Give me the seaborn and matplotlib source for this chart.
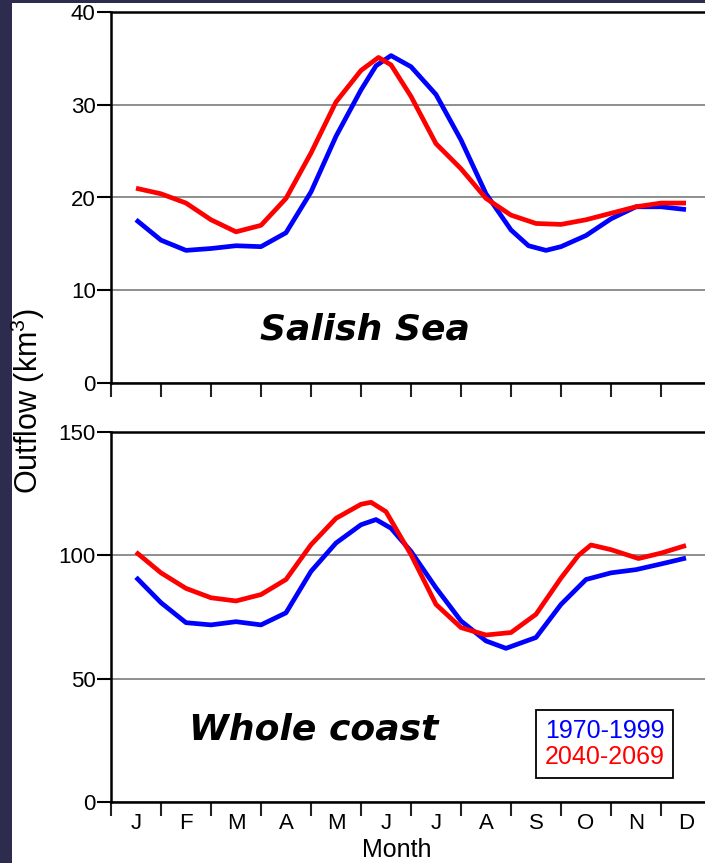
import numpy as np
import pandas as pd
import matplotlib
matplotlib.use("Agg")
import matplotlib.pyplot as plt
import seaborn as sns
from matplotlib.patches import Rectangle

# ---------------- data ----------------
months = ["J", "F", "M", "A", "M", "J", "J", "A", "S", "O", "N", "D"]
periods = ["1970-1999", "2040-2069"]
panel_titles = ["Salish Sea", "Whole coast"]

# positions in months (0 = start of Jan, 12 = end of Dec) and values
salish_1970_month = [0.5, 1.0, 1.5, 2.0, 2.5, 3.0, 3.5, 4.0, 4.5, 5.0, 5.3, 5.6, 6.0,
                     6.5, 7.0, 7.5, 8.0, 8.35, 8.7, 9.0, 9.5, 10.0, 10.5, 11.0, 11.5]
salish_1970 = [17.6, 15.4, 14.3, 14.5, 14.8, 14.7, 16.2, 20.6, 26.6, 31.6, 34.2, 35.3, 34.1,
               31.1, 26.2, 20.4, 16.5, 14.8, 14.3, 14.7, 15.9, 17.7, 19.0, 19.0, 18.7]
salish_2040_month = [0.5, 1.0, 1.5, 2.0, 2.5, 3.0, 3.5, 4.0, 4.5, 5.0, 5.35, 5.6, 6.0,
                     6.5, 7.0, 7.5, 8.0, 8.5, 9.0, 9.5, 10.0, 10.5, 11.0, 11.5]
salish_2040 = [21.0, 20.4, 19.4, 17.6, 16.3, 17.0, 19.9, 24.8, 30.3, 33.7, 35.1, 34.3, 30.9,
               25.8, 23.1, 19.9, 18.1, 17.2, 17.1, 17.6, 18.3, 19.0, 19.4, 19.4]
coast_1970_month = [0.5, 1.0, 1.5, 2.0, 2.5, 3.0, 3.5, 4.0, 4.5, 5.0, 5.3, 5.6, 6.0,
                    6.5, 7.0, 7.5, 7.9, 8.5, 9.0, 9.5, 10.0, 10.5, 11.0, 11.5]
coast_1970 = [91.1, 80.8, 72.7, 71.8, 73.1, 71.8, 76.7, 93.5, 105.0, 112.4, 114.5, 111.0, 101.6,
              86.8, 73.4, 65.3, 62.3, 66.7, 80.1, 90.2, 92.9, 94.2, 96.5, 98.9]
coast_2040_month = [0.5, 1.0, 1.5, 2.0, 2.5, 3.0, 3.5, 4.0, 4.5, 5.0, 5.2, 5.5, 6.0,
                    6.5, 7.0, 7.5, 8.0, 8.5, 9.0, 9.35, 9.6, 10.0, 10.55, 11.0, 11.5]
coast_2040 = [101.3, 92.9, 86.6, 82.8, 81.5, 84.1, 90.2, 104.3, 115.0, 120.7, 121.5, 117.7, 100.3,
              80.1, 70.7, 67.7, 68.7, 76.1, 90.8, 100.0, 104.2, 102.3, 98.7, 100.9, 104.0]

top_yticks = [0, 10, 20, 30, 40]
bottom_yticks = [0, 50, 100, 150]

# ---------------- style ----------------
sns.set_style("white")
plt.rcParams["font.family"] = ["Liberation Sans", "DejaVu Sans"]
plt.rcParams["mathtext.fontset"] = "custom"
plt.rcParams["mathtext.rm"] = "Liberation Sans"
plt.rcParams["mathtext.it"] = "Liberation Sans:italic"
plt.rcParams["text.color"] = "black"
plt.rcParams["xtick.color"] = "black"
plt.rcParams["ytick.color"] = "black"

palette = {periods[0]: "#0000ff", periods[1]: "#ff0000"}

W, H = 705, 863
fig = plt.figure(figsize=(W / 100, H / 100), dpi=100, facecolor="#2d2c4e")
fig.patches.append(Rectangle((12 / W, 0), 1, 1 - 3 / H, transform=fig.transFigure,
                             facecolor="white", edgecolor="none", zorder=-10))


def make_axes(top_px, bottom_px):
    left, right = 111, 711
    a = fig.add_axes([left / W, 1 - bottom_px / H, (right - left) / W,
                      (bottom_px - top_px) / H])
    a.set_zorder(2)
    return a


ax1 = make_axes(12, 383)
ax2 = make_axes(432, 802)

panels = [
    (ax1, (salish_1970_month, salish_1970), (salish_2040_month, salish_2040),
     top_yticks, panel_titles[0], (0.423, 0.143)),
    (ax2, (coast_1970_month, coast_1970), (coast_2040_month, coast_2040),
     bottom_yticks, panel_titles[1], (0.337, 0.195)),
]

for ax, s1, s2, yt, title, tpos in panels:
    df = pd.concat([
        pd.DataFrame({"month": s1[0], "outflow": s1[1], "period": periods[0]}),
        pd.DataFrame({"month": s2[0], "outflow": s2[1], "period": periods[1]}),
    ], ignore_index=True)
    sns.lineplot(data=df, x="month", y="outflow", hue="period", hue_order=periods,
                 palette=palette, linewidth=3.4, estimator=None, sort=False,
                 ax=ax, legend=(ax is ax2), solid_joinstyle="round",
                 solid_capstyle="butt")
    ax.set_xlim(0, 12)
    ax.set_ylim(yt[0], yt[-1])
    ax.set_yticks(yt)
    ax.set_yticklabels([str(v) for v in yt])
    ax.yaxis.grid(True, color="#8e8e8e", linewidth=1.4)
    ax.xaxis.grid(False)
    ax.set_axisbelow(True)
    ax.set_xticks([m + 0.5 for m in range(12)])
    ax.set_xticks(list(range(13)), minor=True)
    if ax is ax2:
        ax.set_xticklabels(months)
    else:
        ax.set_xticklabels([])
    ax.tick_params(axis="y", length=10, width=1.5, direction="out", labelsize=16,
                   pad=1, colors="black", left=True)
    ax.tick_params(axis="x", which="major", length=0, pad=8, labelsize=16, bottom=True,
                   labelcolor="black")
    ax.tick_params(axis="x", which="minor", length=10, width=1.5, direction="out",
                   bottom=True, color="#222222")
    for sp in ax.spines.values():
        sp.set_visible(True)
        sp.set_color("black")
        sp.set_linewidth(1.8)
    ax.set_xlabel("")
    ax.set_ylabel("")
    ax.text(tpos[0], tpos[1], title, transform=ax.transAxes, ha="center", va="center",
            fontsize=26, fontweight="bold", fontstyle="oblique", family="DejaVu Sans",
            color="black")

handles, labels = ax2.get_legend_handles_labels()
leg = ax2.legend(handles, labels, loc="center", bbox_to_anchor=(0.822, 0.157),
                 handlelength=0, handletextpad=0, markerfirst=False, fontsize=18,
                 frameon=True, fancybox=False, edgecolor="black", framealpha=1,
                 borderpad=0.35, labelspacing=0.08, borderaxespad=0)
leg.get_frame().set_linewidth(1.3)
for h in leg.legend_handles:
    h.set_visible(False)
for t, p in zip(leg.get_texts(), labels):
    t.set_color(palette[p])

fig.text(28 / W, 1 - 401 / H, "Outflow (km$^3$)", rotation=90, ha="center", va="center",
         fontsize=22, color="black")
fig.text(397 / W, 1 - 850 / H, "Month", ha="center", va="center", fontsize=18,
         color="black")

fig.savefig("out.png", dpi=100, facecolor=fig.get_facecolor())
